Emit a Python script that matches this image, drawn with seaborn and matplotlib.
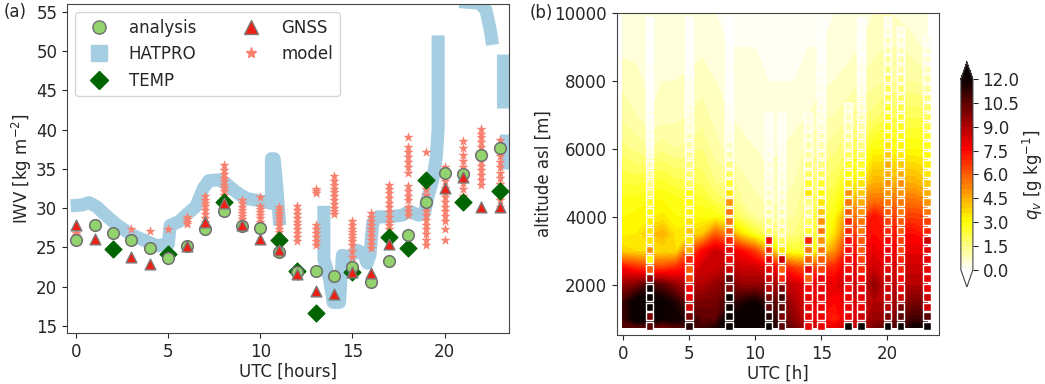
import numpy as np
import pandas as pd
import matplotlib
matplotlib.use('Agg')
import matplotlib.pyplot as plt
from matplotlib.lines import Line2D
import seaborn as sns

# ------------------------------------------------------------------
# DATA  (a) integrated water vapour
# ------------------------------------------------------------------
hours = list(range(24))
analysis_iwv = [25.9, 27.8, 26.8, 25.9, 24.9, 23.7, 25.2, 27.4, 29.6, 27.7, 27.5, 24.4,
                21.9, 22.0, 21.4, 22.5, 20.6, 23.3, 26.6, 30.8, 34.5, 34.3, 36.8, 37.7]

gnss_hours = [0, 1, 3, 4, 6, 7, 8, 9, 10, 11, 12, 13, 14, 15, 16, 17, 20, 21, 22, 23]
gnss_iwv = [27.8, 26.1, 23.8, 22.9, 25.2, 28.3, 30.7, 27.8, 26.1, 24.7, 21.6, 19.5,
            19.1, 21.9, 21.8, 25.4, 32.6, 34.0, 30.1, 30.2]

temp_hours = [2, 5, 8, 11, 12, 13, 15, 17, 18, 19, 21, 23]
temp_iwv = [24.8, 24.2, 30.8, 26.0, 22.0, 16.6, 21.9, 26.3, 24.9, 33.6, 30.8, 32.2]

# HATPRO trace, split in segments where the instrument had gaps
hatpro_seg = [0] * 29 + [1] * 23 + [2] * 5 + [3] * 2 + [4] * 2
hatpro_time = [-0.3, 0.3, 0.7, 1.1, 1.7, 2.2, 3.0, 3.9, 4.4, 4.6, 5.0, 5.1, 5.6, 6.0, 6.5,
               6.9, 7.2, 7.7, 8.1, 8.5, 8.9, 9.3, 9.8, 10.3, 10.6, 10.6, 10.75, 10.9, 11.05,
               13.45, 13.45, 13.75, 13.95, 14.3, 14.45, 14.8, 15.3, 15.6, 15.8, 15.95, 16.1,
               16.4, 17.0, 17.7, 18.1, 18.6, 18.9, 19.1, 19.35, 19.55, 19.65, 19.65,
               20.8, 21.9, 22.25, 22.5, 22.6,
               23.15, 23.15,
               23.35, 23.35]
hatpro_iwv = [30.3, 30.4, 30.7, 30.2, 28.9, 27.9, 26.6, 25.7, 25.2, 25.3, 25.4, 27.8, 28.3,
              29.2, 30.2, 32.5, 33.5, 33.6, 33.2, 32.4, 31.7, 31.2, 31.0, 30.8, 30.6, 36.3,
              36.3, 32.5, 27.8,
              30.3, 23.5, 21.0, 18.0, 18.0, 24.0, 23.8, 24.6, 24.2, 23.0, 24.0, 28.2,
              28.9, 28.9, 29.1, 29.6, 29.1, 29.3, 31.5, 33.5, 36.5, 40.0, 52.0,
              56.3, 56.1, 55.2, 52.5, 50.8,
              49.6, 42.8,
              39.5, 35.0]

# model ensemble members per hour
model_iwv = [
    [26.6, 26.8], [], [], [27.4], [27.1], [27.4],
    [28.0, 28.3, 28.6, 28.9],
    [27.8, 28.3, 28.8, 29.3, 29.8, 30.3, 30.7, 31.1, 31.6],
    [30.0, 30.6, 31.2, 31.7, 32.2, 32.6, 33.0, 33.4, 33.8, 34.3, 34.8, 35.5],
    [27.8, 28.2, 28.6, 29.0, 29.4, 29.8, 30.2, 30.6, 31.0],
    [27.5, 27.9, 28.3, 28.7, 29.1, 29.5, 29.9, 30.3, 31.4],
    [26.0, 26.5, 27.0, 27.4, 27.8, 28.2, 28.6, 29.0, 29.4, 29.8, 30.1],
    [25.8, 26.3, 26.8, 27.3, 27.8, 28.3, 28.8, 29.3, 29.8, 30.3],
    [25.3, 25.8, 26.3, 26.8, 27.3, 27.8, 31.9, 32.2, 32.5],
    [29.2, 29.6, 30.0, 30.5, 31.0, 31.5, 32.0, 32.5, 33.0, 33.5, 34.1],
    [23.8, 24.6, 25.3, 25.8, 26.2, 26.6, 27.0, 27.4, 27.8, 28.4],
    [24.9, 25.4, 25.9, 26.4, 26.9, 27.4, 27.9, 28.4, 28.9, 29.4],
    [27.3, 27.8, 28.3, 28.9, 29.5, 30.1, 30.7, 31.3, 31.9, 32.4, 32.9],
    [29.1, 29.6, 30.1, 31.1, 31.6, 32.2, 32.8, 34.5, 35.2, 35.9, 36.5, 37.2, 37.8, 39.1],
    [25.3, 26.0, 26.7, 27.3, 27.9, 28.5, 29.1, 29.7, 30.3, 31.0, 31.7, 32.4, 37.1],
    [26.0, 27.4, 28.4, 29.0, 29.6, 30.2, 30.8, 31.4, 32.0, 32.6, 33.5, 34.3, 35.2],
    [30.8, 31.6, 32.4, 33.2, 33.9, 34.6, 35.3, 36.0, 36.8, 37.6, 38.5],
    [33.0, 33.6, 34.2, 34.8, 35.4, 36.0, 36.6, 37.2, 37.8, 38.4, 39.0, 39.5, 40.1],
    [30.2, 31.0, 31.7, 32.4, 33.1, 33.8, 34.5, 35.2, 35.9, 36.6, 37.3, 38.0, 38.7],
]

# ------------------------------------------------------------------
# DATA  (b) specific humidity
# ------------------------------------------------------------------
field_hours = list(range(24))
field_alt = [750, 1000, 1500, 2000, 2500, 3000, 3500, 4000, 4500, 5000, 6000, 7000, 8000, 9000, 10000]
field_qv = [
    [10.5, 11.0, 11.0, 9.5, 7.5, 3.8, 3.2, 3.0, 2.8, 2.4, 1.6, 1.1, 0.8, 0.5, 0.3],
    [10.5, 12.5, 12.5, 10.0, 7.0, 3.6, 3.3, 3.1, 2.8, 2.3, 1.4, 0.9, 0.7, 0.5, 0.3],
    [10.5, 12.0, 12.5, 11.0, 6.5, 3.5, 4.0, 3.2, 3.0, 2.5, 1.2, 0.6, 0.5, 0.4, 0.3],
    [10.0, 12.0, 12.2, 10.5, 6.5, 3.6, 4.5, 3.4, 3.0, 2.5, 1.4, 0.7, 0.6, 0.4, 0.3],
    [10.5, 12.0, 11.5, 9.5, 7.0, 3.6, 3.4, 3.0, 2.8, 2.2, 1.2, 0.8, 0.6, 0.4, 0.3],
    [11.0, 11.5, 10.0, 9.0, 7.5, 6.0, 3.6, 3.0, 2.6, 2.2, 1.3, 0.9, 0.7, 0.4, 0.3],
    [11.0, 10.5, 10.0, 9.0, 8.5, 7.5, 4.0, 3.0, 2.5, 2.0, 1.5, 1.0, 0.8, 0.5, 0.3],
    [11.5, 10.5, 10.0, 9.5, 8.5, 8.5, 6.0, 3.0, 2.0, 1.5, 1.0, 0.8, 0.6, 0.4, 0.3],
    [12.5, 12.5, 11.0, 10.0, 9.0, 8.0, 5.0, 2.5, 1.8, 1.5, 0.8, 0.6, 0.4, 0.3, 0.2],
    [12.5, 12.5, 11.5, 9.5, 8.5, 7.5, 3.5, 1.8, 1.2, 1.0, 0.7, 0.5, 0.4, 0.3, 0.2],
    [12.5, 12.5, 12.0, 9.5, 8.5, 6.5, 2.5, 1.2, 1.0, 0.8, 0.6, 0.5, 0.4, 0.3, 0.2],
    [12.0, 12.0, 11.0, 9.5, 8.0, 4.5, 1.8, 1.0, 0.8, 0.7, 0.5, 0.4, 0.3, 0.3, 0.2],
    [11.0, 10.5, 10.0, 9.0, 7.5, 3.0, 1.5, 1.1, 0.9, 0.8, 0.6, 0.4, 0.3, 0.3, 0.2],
    [10.0, 9.5, 9.0, 8.5, 6.5, 2.5, 1.5, 1.2, 1.0, 0.9, 0.7, 0.5, 0.3, 0.3, 0.2],
    [9.0, 8.5, 8.0, 8.0, 6.0, 2.5, 2.0, 1.8, 1.6, 1.4, 1.0, 0.6, 0.4, 0.3, 0.2],
    [8.0, 7.5, 8.0, 8.0, 7.0, 3.5, 2.5, 2.5, 2.2, 1.8, 1.2, 0.8, 0.5, 0.3, 0.2],
    [8.0, 7.0, 7.5, 8.0, 7.0, 5.0, 3.5, 3.0, 2.5, 2.0, 1.4, 0.9, 0.6, 0.4, 0.3],
    [8.5, 8.0, 8.0, 8.5, 8.0, 7.0, 6.0, 5.0, 3.5, 3.0, 1.8, 1.1, 0.7, 0.5, 0.3],
    [9.0, 8.5, 8.5, 8.5, 8.0, 7.5, 7.0, 6.0, 5.0, 3.5, 2.2, 1.4, 0.9, 0.6, 0.4],
    [10.0, 9.5, 9.0, 9.5, 8.5, 8.0, 7.5, 7.5, 5.5, 4.5, 3.0, 1.6, 1.1, 0.8, 0.6],
    [10.5, 9.5, 9.0, 8.5, 8.0, 7.5, 7.0, 6.5, 5.5, 4.5, 3.0, 2.0, 1.2, 0.9, 0.6],
    [11.0, 10.5, 9.5, 9.0, 8.5, 8.0, 7.5, 6.5, 5.5, 4.5, 3.0, 2.0, 1.2, 0.9, 0.5],
    [12.0, 11.0, 10.0, 9.0, 8.5, 8.0, 7.5, 6.5, 5.5, 4.5, 3.0, 2.0, 1.2, 0.7, 0.4],
    [12.0, 11.0, 10.0, 9.0, 8.5, 8.0, 7.0, 6.5, 5.0, 4.0, 3.0, 2.0, 1.0, 0.5, 0.3],
]

# radiosonde profiles (levels every 280 m from 800 m)
sonde_hours = [2, 5, 8, 11, 12, 14, 15, 17, 18, 20, 21, 23]
sonde_alt = np.arange(800, 10000, 280)
nan = np.nan
sonde_qv = [
    [10.5, 10, 12.5, 12.5, 12.5, 9.5, 6, 3, 5, 3.5, 3.5, 3.2, 3, 2.5, 2, 1.5, 1.2, 0.8, 0.5, 0.3,
     0.2, 0.2, 0.1, 0.1, 0.1, 0.1, 0.1, 0.1, 0, 0, 0, 0, 0],
    [11.5, 10, 8.5, 8, 7.5, 6.5, 6, 7, 4.5, 3.5, 4, 3.5, 3.2, 3, 3, 2, 1.8, 1.5, 1.2, 1.0,
     0.8, 0.6, 0.5, 0.4, 0.3, 0.3, 0.2, 0.1, 0.1, 0.1, 0.1, 0.1, 0.1],
    [12.5, 12.5, 12.5, 12.5, 10, 10.5, 8.5, 8, 8, 7, 6, 5.5, 5.5, 5, 3.5, 2.5, 2, 1.5, 1, 0.7,
     0.4, 0.3, 0.2, 0.2, 0.1, 0.1, 0.1, 0.1, 0.1, 0.1, 0, 0, 0],
    [12.5, 11.5, 10.5, 10, 9, 8.5, 8, 8, 7, 7.5, 2, 1.5, 1.2, 1, 0.8, 0.6, 0.5, 0.5, 0.4, 0.3,
     0.3, 0.2, 0.2, nan, nan, nan, nan, nan, nan, nan, nan, nan, nan],
    [10.5, 10, 10.5, 11, 10, 7, 6, 8.5, 3.5, 2, 1.5, 1.2, 1, 0.8, 0.7, 0.6, 0.5, 0.4, 0.3, 0.3,
     0.2, 0.2, 0.2, nan, nan, nan, nan, nan, nan, nan, nan, nan, nan],
    [8, 8, 8, 8, 7.5, 6, 8, 6, 5.5, 7, 2.5, 2, 1.5, 1.5, 3.5, 2.5, 2, 1.5, 1.2, 1,
     0.8, 0.6, 0.5, nan, nan, nan, nan, nan, nan, nan, nan, nan, nan],
    [8, 8, 8, 8, 8, 8, 6.5, 6, 5.5, 5, 5.5, 5, 4, 3.5, 3, 2.5, 2, 1.5, 1.2, 1.0,
     0.8, 0.6, 0.5, 0.4, 0.3, 0.3, 0.2, 0.2, 0.1, 0.1, 0.1, 0.1, 0.1],
    [12.5, 8, 8, 8, 7.5, 8, 7.5, 7.5, 7.5, 7.5, 7, 7, 6, 5.5, 5, 3.5, 3, 2.5, 2, 1.5,
     1.2, 1.0, 0.8, 0.6, nan, nan, nan, nan, nan, nan, nan, nan, nan],
    [12.5, 8.5, 8, 8, 8, 7.5, 7, 6.5, 6, 6, 5.5, 5.5, 5, 4.5, 4, 3.5, 3, 2.5, 2, 1.5,
     1.2, 1.0, 0.8, 0.6, 0.5, 0.4, 0.3, 0.3, 0.2, 0.2, 0.1, 0.1, 0.1],
    [12, 10, 9, 8.5, 8.5, 8.5, 8, 8, 8, 7.5, 7, 6.5, 6, 5.5, 5, 5, 4.5, 4.5, 4, 3.5,
     3.2, 3, 2.8, 2.5, 2.2, 2, 1.8, 1.5, 1.2, 1.0, 0.8, 0.5, 0.3],
    [12.5, 10.5, 10, 8.5, 8, 7.5, 7, 7, 6.5, 6.5, 6, 6, 5.5, 5.5, 5, 5, 4.5, 4, 3.5, 3.2,
     3, 2.8, 2.5, 2.2, 2, 1.8, 1.5, 1.2, 1.0, 0.8, 0.6, 0.4, nan],
    [12.5, 10.5, 8.5, 8.5, 8, 8, 8, 8, 8, 8.5, 7, 6.5, 5.5, 5, 4.5, 4, 3.5, 3.2, 3, 2.8,
     2.5, 2.2, 2, 1.8, 1.5, 1.2, 1.0, 0.8, 0.6, 0.5, 0.3, nan, nan],
]

# ------------------------------------------------------------------
# BUILD TABLES
# ------------------------------------------------------------------
df_an = pd.DataFrame({'utc': hours, 'iwv': analysis_iwv})
df_gnss = pd.DataFrame({'utc': gnss_hours, 'iwv': gnss_iwv})
df_temp = pd.DataFrame({'utc': temp_hours, 'iwv': temp_iwv})
df_hat = pd.DataFrame({'utc': hatpro_time, 'iwv': hatpro_iwv, 'seg': hatpro_seg})
df_model = pd.DataFrame([(h, v) for h, vals in zip(hours, model_iwv) for v in vals],
                        columns=['utc', 'iwv'])
df_sonde = pd.DataFrame([(h, a, q) for h, prof in zip(sonde_hours, sonde_qv)
                         for a, q in zip(sonde_alt, prof)],
                        columns=['utc', 'alt', 'qv']).dropna()
qv_grid = np.array(field_qv).T

# ------------------------------------------------------------------
# PLOT
# ------------------------------------------------------------------
sns.set_style('ticks')
plt.rcParams['font.family'] = ['DejaVu Sans']
plt.rcParams['font.size'] = 12
plt.rcParams['axes.edgecolor'] = '#444444'
plt.rcParams['axes.labelpad'] = 1.5

hat_color = '#a6cee3'
fig = plt.figure(figsize=(10.45, 3.84), dpi=100)
ax1 = fig.add_axes([0.0641, 0.1328, 0.4230, 0.8568])
ax2 = fig.add_axes([0.5904, 0.1276, 0.3081, 0.8385])
cax = fig.add_axes([0.9195, 0.2526, 0.0115, 0.5860])

# (a) IWV time series
sns.lineplot(ax=ax1, data=df_hat, x='utc', y='iwv', units='seg', estimator=None,
             sort=False, color=hat_color, linewidth=9.4, solid_capstyle='butt', zorder=1)
sns.scatterplot(ax=ax1, data=df_model, x='utc', y='iwv', marker='*', s=60,
                color='#f8806f', linewidth=0, zorder=2)
sns.scatterplot(ax=ax1, data=df_temp, x='utc', y='iwv', marker='D', s=75,
                color='#006400', edgecolor='#006400', linewidth=0.8, zorder=3)
sns.scatterplot(ax=ax1, data=df_an, x='utc', y='iwv', marker='o', s=70,
                color='#92d36e', edgecolor='#6e6e6e', linewidth=1.1, zorder=4)
sns.scatterplot(ax=ax1, data=df_gnss, x='utc', y='iwv', marker='^', s=60,
                color='#ee2015', edgecolor='#7a7a7a', linewidth=1.0, zorder=5)

handles = [
    Line2D([], [], ls='none', marker='o', ms=9.5, mfc='#92d36e', mec='#6e6e6e'),
    Line2D([], [], ls='none', marker='s', ms=11, mfc=hat_color, mec=hat_color),
    Line2D([], [], ls='none', marker='D', ms=9, mfc='#006400', mec='#006400'),
    Line2D([], [], ls='none', marker='^', ms=9.5, mfc='#ee2015', mec='#7a7a7a'),
    Line2D([], [], ls='none', marker='*', ms=8, mfc='#f8806f', mec='#f8806f'),
]
labels = ['analysis', 'HATPRO', 'TEMP', 'GNSS', 'model']
ax1.legend(handles, labels, loc='upper left', ncol=2, columnspacing=2.3,
           labelspacing=0.5, fontsize=12, borderaxespad=0.5)

ax1.set_xlim(-0.5, 23.5)
ax1.set_ylim(14.1, 56.0)
ax1.set_xticks([0, 5, 10, 15, 20])
ax1.set_yticks([15, 20, 25, 30, 35, 40, 45, 50, 55])
ax1.set_xlabel('UTC [hours]')
ax1.set_ylabel('IWV [kg m$^{-2}$]')

# (b) humidity cross section
levels = np.linspace(0, 12, 41)
cf = ax2.contourf(field_hours, field_alt, qv_grid, levels=levels, cmap='hot_r', extend='both')
sns.scatterplot(ax=ax2, data=df_sonde, x='utc', y='alt', hue='qv', palette='hot_r',
                hue_norm=(0, 12), marker='s', s=30, edgecolor='white', linewidth=1.0,
                legend=False, zorder=3)
ax2.set_xlim(-0.45, 23.9)
ax2.set_ylim(530, 10000)
ax2.set_xticks([0, 5, 10, 15, 20])
ax2.set_yticks([2000, 4000, 6000, 8000, 10000])
ax2.set_xlabel('UTC [h]')
ax2.set_ylabel('altitude asl [m]')

cbar = fig.colorbar(cf, cax=cax, extendfrac=0.09, ticks=np.arange(0, 12.1, 1.5))
cbar.ax.set_yticklabels([f'{t:.1f}' for t in np.arange(0, 12.1, 1.5)])
cbar.set_label('$q_v$ [g kg$^{-1}$]', labelpad=1)
cbar.outline.set_edgecolor('#444444')

fig.text(0.003, 0.968, '(a)', va='center', ha='left')
fig.text(0.507, 0.965, '(b)', va='center', ha='left')

plt.savefig('out.png', dpi=100)
plt.close(fig)
